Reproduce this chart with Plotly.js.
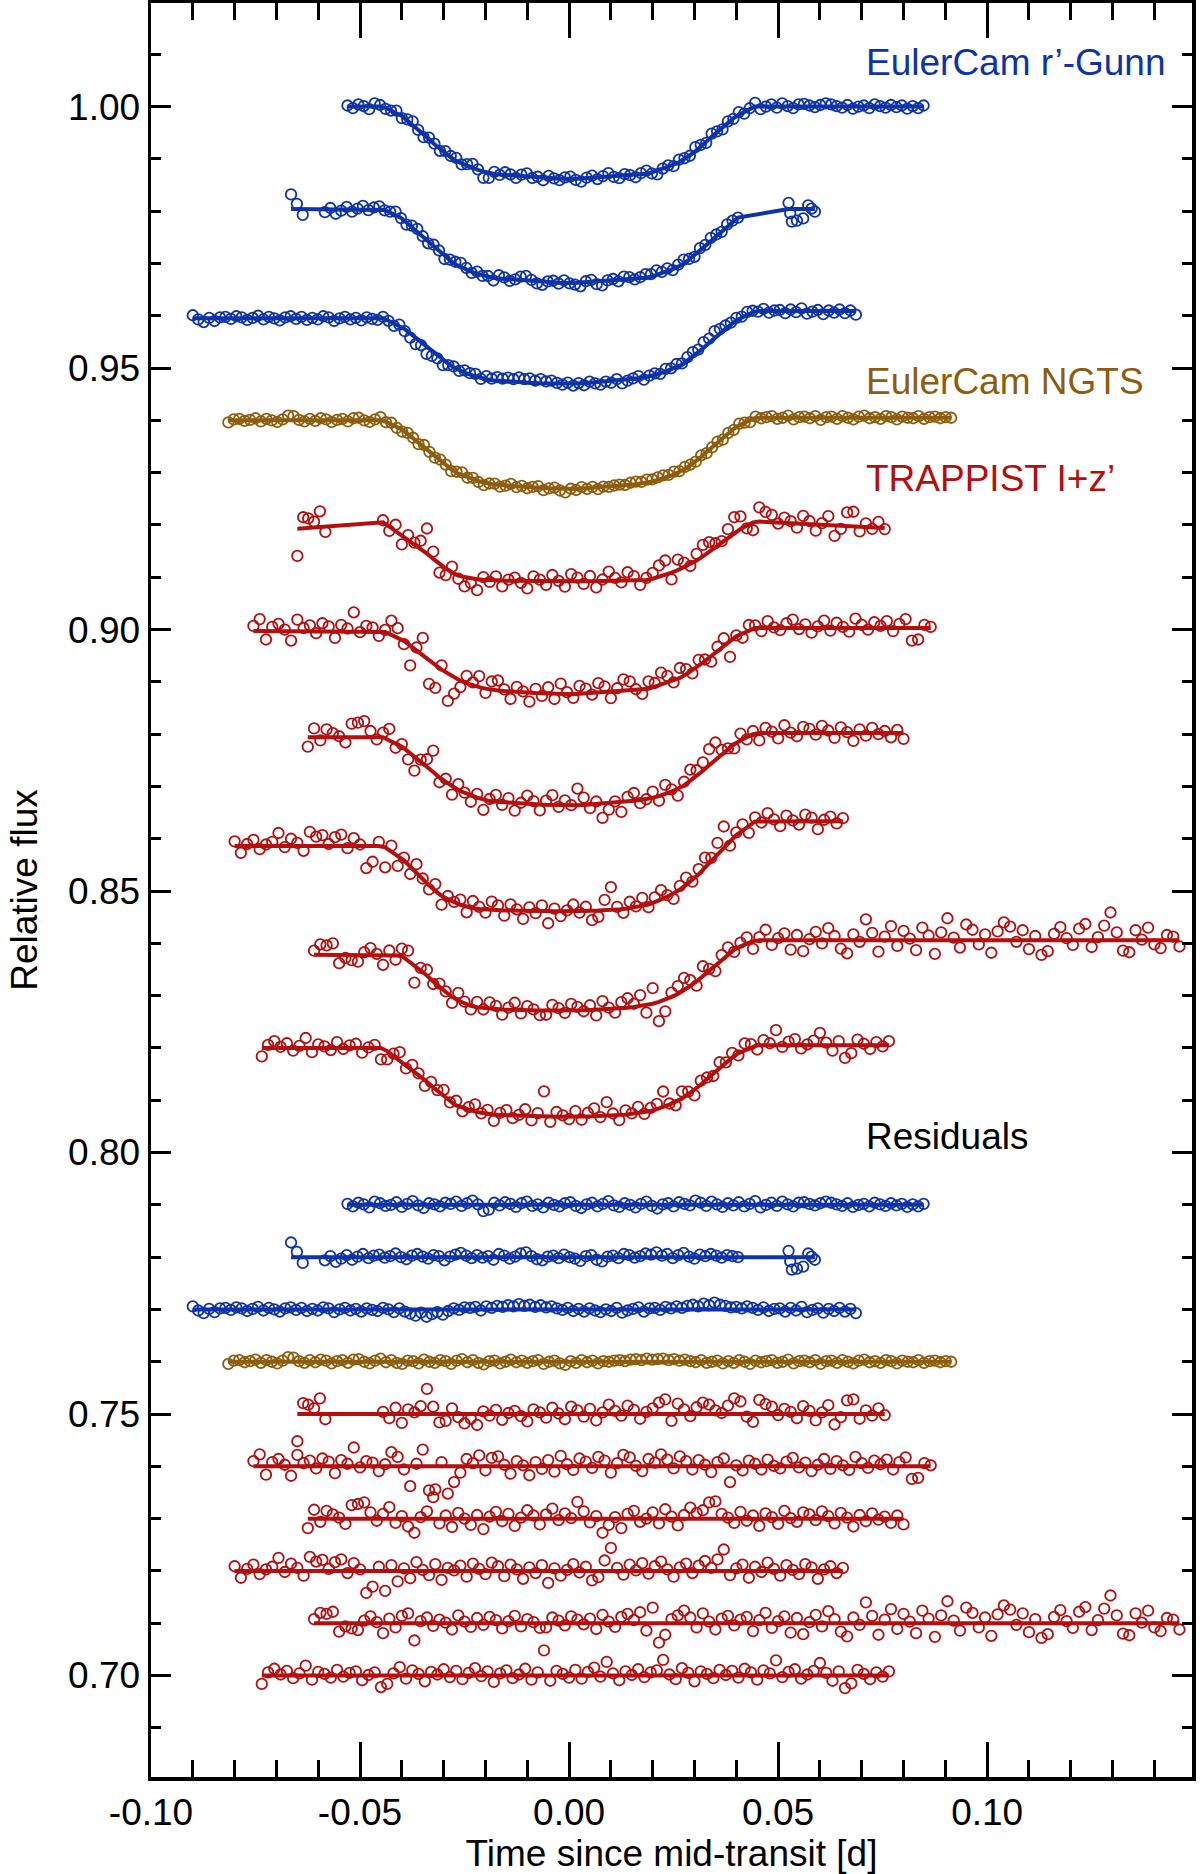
<!DOCTYPE html>
<html>
<head>
<meta charset="utf-8">
<script src="https://cdn.plot.ly/plotly-3.0.1.min.js"></script>
<style>
  body { margin: 0; background: #fff; }
  #chart { width: 1200px; height: 1874px; }
</style>
</head>
<body>
<div id="chart"></div>
<script>
// times are in units of 1e-4 d, residuals in units of 1e-4 relative flux

// fitted transit model, sampled at shared vertex times (d)
const vtxT = [-0.16, -0.0445, -0.040, -0.035, -0.031, -0.027, -0.023, -0.019, -0.012, 0, 0.012, 0.019, 0.023, 0.027, 0.031, 0.035, 0.040, 0.0445, 0.16];

const c1Model = [1.0000,1.0000,0.9982,0.9949,0.9919,0.9896,0.9882,0.9872,0.9867,0.9861,0.9867,0.9872,0.9882,0.9896,0.9919,0.9949,0.9982,1.0000,1.0000];
const c2Model = [0.9804,0.9804,0.9786,0.9751,0.9722,0.9697,0.9683,0.9673,0.9668,0.9662,0.9668,0.9673,0.9683,0.9697,0.9722,0.9751,0.9786,0.9804,0.9804];
const c3Model = [0.9595,0.9595,0.9579,0.9547,0.9520,0.9498,0.9485,0.9477,0.9472,0.9469,0.9476,0.9483,0.9493,0.9506,0.9530,0.9559,0.9591,0.9609,0.9609];
const c4Model = [0.9400,0.9400,0.9383,0.9351,0.9323,0.9300,0.9287,0.9278,0.9273,0.9268,0.9274,0.9281,0.9290,0.9303,0.9326,0.9354,0.9388,0.9405,0.9405];
const c5Model = [0.9137,0.9205,0.9180,0.9152,0.9125,0.9104,0.9097,0.9094,0.9093,0.9092,0.9093,0.9095,0.9104,0.9117,0.9134,0.9158,0.9188,0.9207,0.9159];
const c6Model = [0.8997,0.8997,0.8981,0.8952,0.8926,0.8905,0.8893,0.8885,0.8880,0.8876,0.8882,0.8887,0.8897,0.8909,0.8930,0.8956,0.8987,0.9003,0.9003];
const c7Model = [0.8794,0.8794,0.8776,0.8745,0.8717,0.8695,0.8681,0.8672,0.8667,0.8663,0.8669,0.8676,0.8685,0.8699,0.8723,0.8751,0.8784,0.8802,0.8802];
const c8Model = [0.8586,0.8586,0.8563,0.8522,0.8493,0.8476,0.8467,0.8464,0.8462,0.8461,0.8464,0.8474,0.8487,0.8505,0.8532,0.8566,0.8607,0.8633,0.8635];
const c9Model = [0.8378,0.8378,0.8376,0.8346,0.8316,0.8292,0.8279,0.8275,0.8272,0.8271,0.8275,0.8282,0.8292,0.8307,0.8330,0.8359,0.8391,0.8406,0.8406];
const c10Model = [0.8200,0.8200,0.8173,0.8142,0.8114,0.8090,0.8079,0.8073,0.8070,0.8068,0.8071,0.8078,0.8088,0.8103,0.8126,0.8155,0.8188,0.8205,0.8205];

// EulerCam r'-Gunn
const c1Time = [-530,-517,-504,-491,-478,-465,-452,-439,-426,-413,-400,-387,-374,-361,-348,-335,-322,-309,-296,-283,-270,-257,-244,-231,-218,-205,-192,-179,-166,-153,-140,-127,-114,-101,-88,-75,-62,-49,-36,-23,-10,3,16,29,42,55,68,81,94,107,120,133,146,159,172,185,198,211,224,237,250,263,276,289,302,315,328,341,354,367,380,393,406,419,432,445,458,471,484,497,510,523,536,549,562,575,588,601,614,627,640,653,666,679,692,705,718,731,744,757,770,783,796,809,822,835,848];
const c1Res = [2,-3,4,1,-5,6,3,-2,0,5, -4,2,7,-1,-6,3,1,-3,4,2, 6,-2,3,8,1,-12,-9,4,-1,5, 2,-4,3,6,-2,1,-5,4,0,-3, 3,5,-2,-6,1,4,-3,2,7,-1, -4,3,0,-5,2,6,-2,-7,1,3, -3,5,2,-1,8,4,-2,6,1,-4, 3,-1,5,-3,2,7,-5,0,4,-2, 6,1,-3,4,5,2,-1,3,6,4, 1,-2,3,-4,0,2,-3,4,1,-2, 3,-1,2,-4,1,-3,2];

const c2Time = [-665,-651,-637,-584,-571,-558,-545,-532,-519,-506,-493,-480,-467,-454,-441,-428,-415,-402,-389,-376,-363,-350,-337,-324,-311,-298,-285,-272,-259,-246,-233,-220,-207,-194,-181,-168,-155,-142,-129,-116,-103,-90,-77,-64,-51,-38,-25,-12,1,14,27,40,53,66,79,92,105,118,131,144,157,170,183,196,209,222,235,248,261,274,287,300,313,326,339,352,365,378,391,404,525,529,533,545,560,572,580,588];
const c2Res = [28,10,-11, -6,2,-9,-3,4,-5,1,6,-2,3, 5,-1,2,7,0,-4,3,6,1,-3, 4,2,-6,1,5,8,3,-2,4,-1, 2,-5,6,3,-3,1,7,9,2,-4, -6,1,3,-2,5,0,-3,-7,2,4, -5,-8,1,3,-2,6,4,-1,2,7, 5,9,3,6,-2,4,8,1,-3,5, 2,6,3,-1,4,2,0, 12,-8,-24,-22,-18,7,1,-5];

const c3Time = [-900,-887,-874,-861,-848,-835,-822,-809,-796,-783,-770,-757,-744,-731,-718,-705,-692,-679,-666,-653,-640,-627,-614,-601,-588,-575,-562,-549,-536,-523,-510,-497,-484,-471,-458,-445,-432,-419,-406,-393,-380,-367,-354,-341,-328,-315,-302,-289,-276,-263,-250,-237,-224,-211,-198,-185,-172,-159,-146,-133,-120,-107,-94,-81,-68,-55,-42,-29,-16,-3,10,23,36,49,62,75,88,101,114,127,140,153,166,179,192,205,218,231,244,257,270,283,296,309,322,335,348,361,374,387,400,413,426,439,452,465,478,491,504,517,530,543,556,569,582,595,608,621,634,647,660,673,686];
const c3Res = [6,-2,-7,1,-5,2,3,-1,4,2, -3,1,5,-2,3,0,-4,2,4,-1, 3,-3,1,-2,4,2,-5,0,3,-2, 1,-4,2,-1,-3,3,0,-5,2,-4, -8,-12,-6,-14,-9,-5,-10,-3,2,-1, 4,3,5,-2,6,3,7,5,8,6, 10,7,9,5,8,4,6,2,-1,3, -3,1,-4,2,-2,-5,0,-3,3,-6, -2,1,4,-4,2,3,-1,5,2,6, 3,7,9,6,11,8,13,9,7,4, 5,2,6,3,-1,4,-3,1,2,-4, 3,-2,5,-5,-1,2,-6,1,-3,3, -4,1,-7];

// EulerCam NGTS
const c4Time = [-815,-802,-789,-776,-763,-750,-737,-724,-711,-698,-685,-672,-659,-646,-633,-620,-607,-594,-581,-568,-555,-542,-529,-516,-503,-490,-477,-464,-451,-438,-425,-412,-399,-386,-373,-360,-347,-334,-321,-308,-295,-282,-269,-256,-243,-230,-217,-204,-191,-178,-165,-152,-139,-126,-113,-100,-87,-74,-61,-48,-35,-22,-9,4,17,30,43,56,69,82,95,108,121,134,147,160,173,186,199,212,225,238,251,264,277,290,303,316,329,342,355,368,381,394,407,420,433,446,459,472,485,498,511,524,537,550,563,576,589,602,615,628,641,654,667,680,693,706,719,732,745,758,771,784,797,810,823,836,849,862,875,888,901,914];
const c4Res = [-4,2,3,-1,1,4,-2,3,0,-3, 2,9,8,1,-2,3,-1,4,2,-3, 1,3,-2,4,5,0,-3,2,6,-1, 3,-2,-4,2,1,-3,4,0,-2,3, 1,-4,2,5,-1,3,-2,-5,1,2, -3,0,4,-1,2,-2,1,3,-4,0, 2,-3,-6,1,-2,3,-1,2,-3,1, 0,2,3,1,4,5,3,6,4,5, 6,3,5,2,4,1,-1,3,-2,0, 2,-3,1,-2,3,0,-4,2,-1,1, 3,-2,0,4,-3,1,2,-1,3,-4, 1,2,-2,3,0,-3,2,4,-1,1, -2,3,1,-3,2,0,-1,3,-2,1, 2,-1,1,0];

// TRAPPIST I+z'
const c5Time = [-650,-636,-624,-610,-596,-583,-445,-430,-415,-400,-385,-370,-355,-340,-325,-310,-295,-280,-265,-250,-235,-220,-205,-190,-175,-160,-145,-130,-115,-100,-85,-70,-55,-40,-25,-10,5,20,35,50,65,80,95,110,125,140,155,170,185,200,215,230,245,260,275,290,305,320,335,350,365,380,395,410,425,440,455,470,485,500,515,530,545,560,575,590,605,620,635,650,665,680,695,710,725,740,755];
const c5Res = [-52,21,18,11,30,-10, 4,-8,12,-17,9,3,15,48,14,-16, -13,11,-6,-18,-9,-21,5,-3,8,-11, 2,6,-4,-14,9,3,-7,12,1,-10, 14,7,-5,10,-12,3,18,6,-3,16, 8,-9,4,11,22,28,-13,20,9,-4, 13,22,18,7,2,16,30,24,-5,-15, 27,19,14,-2,10,4,-8,15,6,-12, 3,17,-20,-6,26,28,-9,7,-3,11, -2];

const c6Time = [-755,-740,-725,-710,-695,-680,-665,-650,-635,-620,-605,-590,-575,-560,-545,-530,-515,-500,-485,-470,-455,-440,-425,-410,-395,-380,-365,-350,-335,-320,-305,-290,-275,-260,-245,-230,-215,-200,-185,-170,-155,-140,-125,-110,-95,-80,-65,-50,-35,-20,-5,10,25,40,55,70,85,100,115,130,145,160,175,190,205,220,235,250,265,280,295,310,325,340,355,370,385,400,415,430,445,460,475,490,505,520,535,550,565,580,595,610,625,640,655,670,685,700,715,730,745,760,775,790,805,820,835,850,865];
const c6Res = [10,23,-16,8,14,3,-18,22,6,11, -4,15,9,-13,12,5,36,-2,10,7, -9,4,27,18,-6,-38,5,32,-46,-44, 8,-52,-30,-12,14,6,21,-8,16,19, 3,-14,10,2,-17,8,-5,12,-10,20, 4,-7,15,9,-3,18,11,-12,6,22, 17,1,-9,14,7,23,13,-4,19,10, -6,12,3,-11,8,15,-30,2,-8,11, 5,-6,13,1,-4,9,16,-2,7,-9, 3,14,-5,10,2,-7,18,6,-3,11, 4,13,-6,8,17,-24,-22,6,2];

const c7Time = [-625,-610,-595,-580,-565,-550,-535,-520,-505,-490,-475,-460,-445,-430,-415,-400,-385,-370,-355,-340,-325,-310,-295,-280,-265,-250,-235,-220,-205,-190,-175,-160,-145,-130,-115,-100,-85,-70,-55,-40,-25,-10,5,20,35,50,65,80,95,110,125,140,155,170,185,200,215,230,245,260,275,290,305,320,335,350,365,380,395,410,425,440,455,470,485,500,515,530,545,560,575,590,605,620,635,650,665,680,695,710,725,740,755,770,785,800];
const c7Res = [-18,17,-6,15,8,2,-10,26,28,31, 12,-4,9,22,-8,5,-15,-27,3,14, 41,-9,6,-16,11,0,-12,7,-20,4, 13,-5,9,-14,2,16,6,-11,8,19, -3,10,1,32,14,-7,5,-27,-12,3, -18,9,15,-6,0,12,-9,18,4,-13, 7,21,11,16,31,33,9,2,-8,13, -4,6,-14,10,3,-10,15,1,-6,12, 8,-3,14,5,-9,11,2,-15,7,-5, 10,-2,4,-8,6,-11];

const c8Time = [-800,-785,-770,-755,-740,-725,-710,-695,-680,-665,-650,-635,-620,-605,-590,-575,-560,-545,-530,-515,-500,-485,-470,-455,-440,-425,-410,-395,-380,-365,-350,-335,-320,-305,-290,-275,-260,-245,-230,-215,-200,-185,-170,-155,-140,-125,-110,-95,-80,-65,-50,-35,-20,-5,10,25,40,55,70,85,100,115,130,145,160,175,190,205,220,235,250,265,280,295,310,325,340,355,370,385,400,415,430,445,460,475,490,505,520,535,550,565,580,595,610,625,640,655];
const c8Res = [9,-13,4,12,-6,3,8,25,-2,14, 6,-9,27,18,21,4,17,22,-4,15, 3,-42,-30,8,-38,11,-20,5,-14,17, 2,-8,13,-17,6,1,10,-11,14,4, -6,16,9,-10,12,3,-15,7,-4,11, -23,5,-9,2,13,-3,8,-18,-12,20, 44,6,-7,12,1,15,-5,9,18,3, -11,7,14,-4,10,19,6,22,41,-8, 5,12,-13,8,-2,16,4,-9,11,2, -6,13,7,-15,3,9,-4,6];

const c9Time = [-610,-595,-580,-565,-550,-535,-520,-505,-490,-475,-460,-445,-430,-415,-400,-385,-370,-355,-340,-325,-310,-295,-280,-265,-250,-235,-220,-205,-190,-175,-160,-145,-130,-115,-100,-85,-70,-55,-40,-25,-10,5,20,35,50,65,80,95,110,125,140,155,170,185,200,215,230,245,260,275,290,305,320,335,350,365,380,395,410,425,440,455,470,485,500,515,530,545,560,575,590,605,620,635,650,665,680,695,710,725,740,755,770,785,800,815,830,845,860,875,890,905,920,935,950,965,980,995,1010,1025,1040,1055,1070,1085,1100,1115,1130,1145,1160,1175,1190,1205,1220,1235,1250,1265,1280,1295,1310,1325,1340,1355,1370,1385,1400,1415,1430,1445,1460];
const c9Res = [8,20,18,22,-16,-6,-10,-13,5,13, 2,-19,9,-8,14,19,-33,4,11,-5, 7,1,-12,15,3,-7,10,-3,12,6, -10,4,14,-6,8,2,-9,-8,11,5, -4,13,7,-2,9,-11,16,3,-7,12, 18,6,21,-14,30,-37,-22,8,15,24, 11,-8,19,3,-12,9,14,-4,7,12, -15,6,20,-9,4,13,-18,10,-21,2, 16,-6,23,8,-16,-25,11,-3,40,14, -22,7,27,-11,18,3,-19,24,9,-26, 15,42,5,-14,30,20,-8,11,-24,17, 34,26,-3,19,-17,8,-28,-21,12,25, 4,-9,22,31,-13,6,28,53,15,-20, -23,19,1,24,-8,-15,10,7,-12];

const c10Time = [-735,-720,-705,-690,-675,-660,-645,-630,-615,-600,-585,-570,-555,-540,-525,-510,-495,-480,-465,-450,-435,-420,-405,-390,-375,-360,-345,-330,-315,-300,-285,-270,-255,-240,-225,-210,-195,-180,-165,-150,-135,-120,-105,-90,-75,-60,-45,-30,-15,0,15,30,45,60,75,90,105,120,135,150,165,180,195,210,225,240,255,270,285,300,315,330,345,360,375,390,405,420,435,450,465,480,495,510,525,540,555,570,585,600,615,630,645,660,675,690,705,720,735,750,765];
const c10Res = [-16,6,13,2,9,-5,4,19,-8,7, 3,-4,11,-2,5,8,-9,1,6,-22, -16,4,16,-6,10,3,-11,7,2,12, -3,9,-7,5,14,-1,8,-12,4,10, -5,2,13,-8,6,48,-10,9,3,-4, 11,-6,7,15,-2,26,4,-9,8,1, 12,-3,6,10,30,2,-7,14,5,-11, 8,3,-5,11,1,9,-4,13,6,-8, 10,4,29,-3,7,12,-6,2,9,24, 5,-10,8,-24,-15,11,3,-7,6,-2,8];

// offset of each residual light curve
const resLevel = [0.790, 0.780, 0.770, 0.760, 0.750, 0.740, 0.730, 0.720, 0.710, 0.700];

const xTickVals = [-0.10, -0.05, 0.00, 0.05, 0.10];
const xTickText = ['-0.10', '-0.05', '0.00', '0.05', '0.10'];
const yTickVals = [0.70, 0.75, 0.80, 0.85, 0.90, 0.95, 1.00];
const yTickText = ['0.70', '0.75', '0.80', '0.85', '0.90', '0.95', '1.00'];

const BLUE = '#0e32a8';
const BROWN = '#8d5c0d';
const RED = '#b40e0e';
const FONT = 'Liberation Sans, Arial, Helvetica, sans-serif';

let curves = [
  {t: c1Time, r: c1Res, m: c1Model, color: BLUE},
  {t: c2Time, r: c2Res, m: c2Model, color: BLUE},
  {t: c3Time, r: c3Res, m: c3Model, color: BLUE},
  {t: c4Time, r: c4Res, m: c4Model, color: BROWN},
  {t: c5Time, r: c5Res, m: c5Model, color: RED},
  {t: c6Time, r: c6Res, m: c6Model, color: RED},
  {t: c7Time, r: c7Res, m: c7Model, color: RED},
  {t: c8Time, r: c8Res, m: c8Model, color: RED},
  {t: c9Time, r: c9Res, m: c9Model, color: RED},
  {t: c10Time, r: c10Res, m: c10Model, color: RED}
];

function modelAt(t, fluxes) {
  for (let i = 1; i < vtxT.length; i++) {
    if (t <= vtxT[i]) {
      let f = (t - vtxT[i - 1]) / (vtxT[i] - vtxT[i - 1]);
      return fluxes[i - 1] + f * (fluxes[i] - fluxes[i - 1]);
    }
  }
  return fluxes[fluxes.length - 1];
}

let data = [];
for (let k = 0; k < curves.length; k++) {
  let c = curves[k];
  let x = [], yMod = [], yObs = [], yRes = [];
  for (let i = 0; i < c.t.length; i++) {
    let t = c.t[i] / 1e4;
    let m = modelAt(t, c.m);
    x.push(t);
    yMod.push(m);
    yObs.push(m + c.r[i] / 1e4);
    yRes.push(resLevel[k] + c.r[i] / 1e4);
  }
  let marker = {symbol: 'circle-open', size: 10.5, color: c.color, line: {width: 1.8, color: c.color}};
  data.push({x: x, y: yObs, mode: 'markers', type: 'scatter', marker: marker, hoverinfo: 'skip'});
  data.push({x: x, y: yMod, mode: 'lines', type: 'scatter', line: {color: c.color, width: 4}, hoverinfo: 'skip'});
  data.push({x: x, y: yRes, mode: 'markers', type: 'scatter', marker: marker, hoverinfo: 'skip'});
  data.push({x: [x[0], x[x.length - 1]], y: [resLevel[k], resLevel[k]], mode: 'lines', type: 'scatter',
    line: {color: c.color, width: 4}, hoverinfo: 'skip'});
}

let labelFont = {family: FONT, size: 37};
let layout = {
  width: 1200,
  height: 1874,
  margin: {l: 151, r: 8, t: 3, b: 97, pad: 0},
  paper_bgcolor: '#ffffff',
  plot_bgcolor: '#ffffff',
  showlegend: false,
  font: {family: FONT, size: 37, color: '#000'},
  xaxis: {
    range: [-0.100, 0.149],
    showgrid: false,
    zeroline: false,
    showline: true,
    linecolor: '#000',
    linewidth: 3.5,
    mirror: 'ticks',
    ticks: 'inside',
    ticklen: 35,
    tickwidth: 3,
    tickcolor: '#000',
    tickmode: 'array',
    tickvals: xTickVals,
    ticktext: xTickText,
    tickfont: labelFont,
    minor: {tickmode: 'linear', tick0: 0, dtick: 0.01, ticks: 'inside', ticklen: 17, tickwidth: 3, tickcolor: '#000', showgrid: false},
    title: {text: 'Time since mid-transit [d]', font: labelFont, standoff: 8}
  },
  yaxis: {
    range: [0.6806, 1.0198],
    showgrid: false,
    zeroline: false,
    showline: true,
    linecolor: '#000',
    linewidth: 3.5,
    mirror: 'ticks',
    ticks: 'inside',
    ticklen: 20,
    tickwidth: 3,
    tickcolor: '#000',
    tickmode: 'array',
    tickvals: yTickVals,
    ticktext: yTickText,
    tickfont: labelFont,
    minor: {tickmode: 'linear', tick0: 0, dtick: 0.01, ticks: 'inside', ticklen: 10, tickwidth: 3, tickcolor: '#000', showgrid: false},
    title: {text: 'Relative flux', font: labelFont, standoff: 20}
  },
  annotations: [
    {x: 0.0706, y: 1.0085, xref: 'x', yref: 'y', text: 'EulerCam r’-Gunn', showarrow: false,
      xanchor: 'left', yanchor: 'middle', font: {family: FONT, size: 37, color: BLUE}},
    {x: 0.0706, y: 0.9475, xref: 'x', yref: 'y', text: 'EulerCam NGTS', showarrow: false,
      xanchor: 'left', yanchor: 'middle', font: {family: FONT, size: 37, color: BROWN}},
    {x: 0.0706, y: 0.9288, xref: 'x', yref: 'y', text: 'TRAPPIST I+z’', showarrow: false,
      xanchor: 'left', yanchor: 'middle', font: {family: FONT, size: 37, color: RED}},
    {x: 0.0706, y: 0.8030, xref: 'x', yref: 'y', text: 'Residuals', showarrow: false,
      xanchor: 'left', yanchor: 'middle', font: {family: FONT, size: 37, color: '#000'}}
  ]
};

Plotly.newPlot('chart', data, layout, {staticPlot: true});
</script>
</body>
</html>
